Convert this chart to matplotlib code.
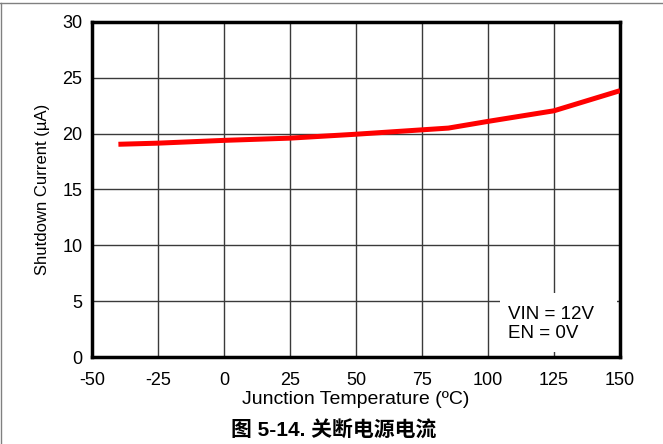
import matplotlib
matplotlib.use("Agg")
import matplotlib.pyplot as plt
from matplotlib.patches import Rectangle
from matplotlib.lines import Line2D

temps = [-40, -25, 0, 25, 50, 85, 100, 125, 150]
current = [19.05, 19.15, 19.4, 19.6, 19.95, 20.5, 21.1, 22.05, 23.85]
xticks = [-50, -25, 0, 25, 50, 75, 100, 125, 150]
yticks = [0, 5, 10, 15, 20, 25, 30]

plt.rcParams['font.family'] = ['Liberation Sans', 'DejaVu Sans']
plt.rcParams['axes.unicode_minus'] = False

fig = plt.figure(figsize=(6.63, 4.44), dpi=100)
ax = fig.add_axes([92/663, 1-357/444, (620-92)/663, (357-22)/444])

ax.set_xlim(-50, 150)
ax.set_ylim(0, 30)
ax.set_xticks(xticks)
ax.set_yticks(yticks)
ax.tick_params(length=0, labelsize=13, colors='black')
ax.tick_params(axis='x', pad=10.5)
ax.tick_params(axis='y', pad=7)
ax.grid(True, color='#3a3a3a', linewidth=1.0)
ax.set_axisbelow(True)
for s in ax.spines.values():
    s.set_linewidth(2.5)
    s.set_color('black')

ax.plot(temps, current, color='#ff0000', linewidth=3.6, solid_capstyle='butt', zorder=3)

# white annotation box covering grid
ax.add_patch(Rectangle((104.5, 0.45), 44.5, 5.3, facecolor='white', edgecolor='none', zorder=2))
ax.text(107.5, 2.95, "VIN = 12V\nEN = 0V", fontsize=13.5, va='center', ha='left', zorder=4, linespacing=1.12)

ax.set_xlabel("Junction Temperature (ºC)", fontsize=14, labelpad=2)
ax.set_ylabel("Shutdown Current (µA)", fontsize=12, labelpad=9)

fig.text(334/663, 1-431/444, "图 5-14. 关断电源电流", ha='center', va='center', fontsize=15,
         fontweight='bold', family=['Liberation Sans', 'Noto Sans CJK SC'])

# page border (top and left)
fig.add_artist(Line2D([0, 1], [1-3/444, 1-3/444], color='#808080', linewidth=1.0, transform=fig.transFigure))
fig.add_artist(Line2D([1/663, 1/663], [0, 1-3/444], color='#808080', linewidth=1.0, transform=fig.transFigure))

fig.savefig("out.png", dpi=100)
